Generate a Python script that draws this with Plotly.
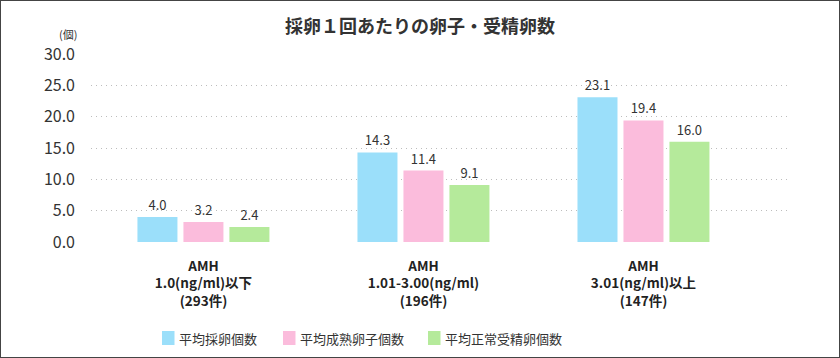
import plotly.graph_objects as go

# ---- data ----
categories = ["AMH<br>1.0(ng/ml)以下<br>(293件)",
              "AMH<br>1.01-3.00(ng/ml)<br>(196件)",
              "AMH<br>3.01(ng/ml)以上<br>(147件)"]
series_names = ["平均採卵個数", "平均成熟卵子個数", "平均正常受精卵個数"]
retrieved = [4.0, 14.3, 23.1]
mature = [3.2, 11.4, 19.4]
fertilized = [2.4, 9.1, 16.0]
y_ticks = [0, 5, 10, 15, 20, 25, 30]
title_text = "採卵１回あたりの卵子・受精卵数"
unit_text = "(個)"

colors = ["#9BDFFA", "#FBBCDC", "#B5EA9B"]
FONT = "Noto Sans CJK JP"
W, H = 840, 358
ML, MR, MT, MB = 91, 50, 54, 116
PW, PH = W - ML - MR, H - MT - MB


def px2x(px):
    return (px - ML) / PW


def py2y(py):
    return (H - MB - py) / PH


fig = go.Figure()
for name, vals, col in zip(series_names, [retrieved, mature, fertilized], colors):
    fig.add_trace(go.Bar(
        x=categories, y=vals, name=name, marker=dict(color=col, line=dict(width=0)),
        text=[f"{v:.1f}" for v in vals], textposition="outside",
        textfont=dict(family=FONT, size=13, color="#333333"),
        cliponaxis=False, showlegend=False, hoverinfo="skip",
    ))

# manual legend (square + label)
legend_sq_x = [162, 283, 428]
shapes = []
annotations = []
for name, col, sx in zip(series_names, colors, legend_sq_x):
    shapes.append(dict(type="rect", xref="paper", yref="paper",
                       x0=px2x(sx), x1=px2x(sx + 12.5),
                       y0=py2y(345), y1=py2y(331),
                       fillcolor=col, line=dict(width=0)))
    annotations.append(dict(xref="paper", yref="paper", x=px2x(sx + 15), y=py2y(338),
                            xanchor="left", yanchor="middle", showarrow=False,
                            text=name, font=dict(family=FONT, size=13, color="#333333")))

# unit label
annotations.append(dict(xref="paper", yref="paper", x=px2x(68), y=py2y(34),
                        xanchor="center", yanchor="middle", showarrow=False,
                        text=unit_text, font=dict(family=FONT, size=11, color="#333333")))

# outer border
shapes.append(dict(type="rect", xref="paper", yref="paper",
                   x0=px2x(0), x1=px2x(W), y0=py2y(H), y1=py2y(0),
                   line=dict(color="#444444", width=2), fillcolor="rgba(0,0,0,0)",
                   layer="above"))

fig.update_layout(
    width=W, height=H,
    margin=dict(l=ML, r=MR, t=MT, b=MB, pad=0),
    paper_bgcolor="white", plot_bgcolor="white",
    barmode="group", bargap=0.373, bargroupgap=0.13,
    title=dict(text=f"<b>{title_text}</b>", x=0.5, xref="container", xanchor="center",
               y=1 - 27 / H, yref="container", yanchor="middle",
               font=dict(family=FONT, size=18, color="#333333")),
    font=dict(family=FONT, color="#333333"),
    shapes=shapes, annotations=annotations,
    showlegend=False,
)
fig.update_xaxes(range=[-0.511, 2.666], showgrid=False, zeroline=False, showline=False,
                 ticks="", ticklabelstandoff=14,
                 tickfont=dict(family=FONT, size=13.5, color="#222222", weight=700))
fig.update_yaxes(range=[0, 30], tickvals=y_ticks, tickformat=".1f",
                 showgrid=True, gridcolor="#BDBDBD", griddash="1px,4px", gridwidth=1,
                 zeroline=False, showline=False, ticks="", ticklabelstandoff=15,
                 tickfont=dict(family=FONT, size=16, color="#333333"))

fig.write_html("out.html",
               config={"displayModeBar": False},
               post_script="document.body.style.margin='0';document.body.style.overflow='hidden';")
